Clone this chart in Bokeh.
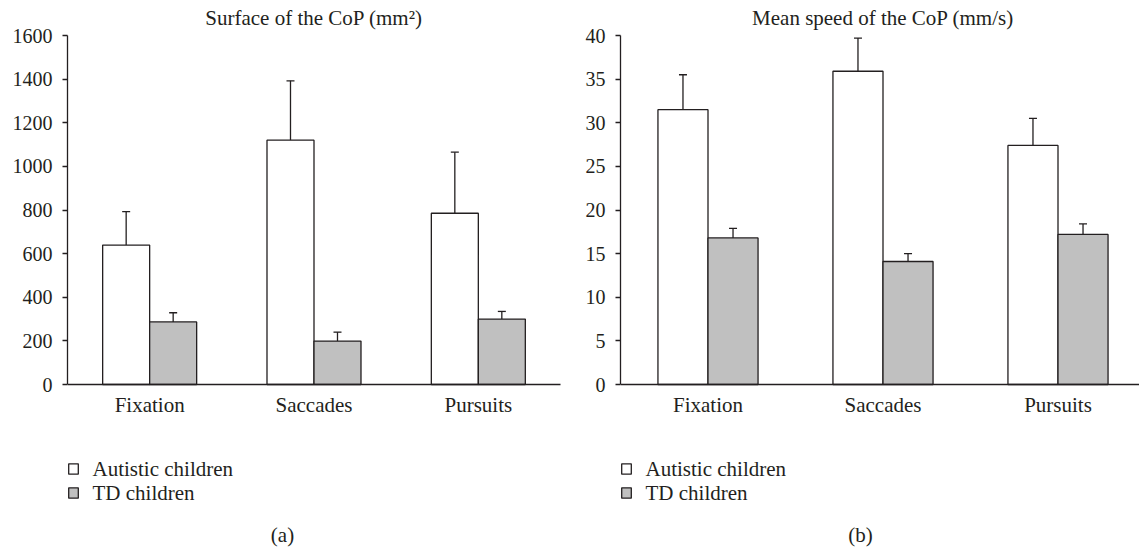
import numpy as np
from bokeh.plotting import figure
from bokeh.layouts import row
from bokeh.models import (Range1d, FixedTicker, Whisker, TeeHead, ColumnDataSource,
                          Label, Legend, LegendItem)
from bokeh.embed import file_html
from bokeh.resources import INLINE

# ---------------- data ----------------
categories = ["Fixation", "Saccades", "Pursuits"]
groups = ["Autistic children", "TD children"]

surface_autistic = [639, 1120, 785]
surface_autistic_err = [154, 272, 280]
surface_td = [287, 199, 300]
surface_td_err = [42, 41, 35]

speed_autistic = [31.5, 35.9, 27.4]
speed_autistic_err = [4.0, 3.8, 3.1]
speed_td = [16.8, 14.1, 17.2]
speed_td_err = [1.1, 0.9, 1.2]

surface_ticks = [0, 200, 400, 600, 800, 1000, 1200, 1400, 1600]
speed_ticks = [0, 5, 10, 15, 20, 25, 30, 35, 40]

titles = ["Surface of the CoP (mm\u00b2)", "Mean speed of the CoP (mm/s)"]
captions = ["(a)", "(b)"]

# ---------------- style / layout ----------------
FONT = "Liberation Serif"
FS_TICK = "20px"
FS_TEXT = "21px"
INK = "#231f20"
TD_FILL = "#c0c0c0"
BAR_W = 0.286
H = 548            # figure height (frame covers all of it)
PLOT_TOP = 35      # pixel row of the top tick
PLOT_BOTTOM = 384  # pixel row of the zero line
LEG_TOP = 458      # pixel row of the legend's top
LEG_ROW = 24       # legend row pitch


def panel(a_vals, a_err, t_vals, t_err, ticks, title, caption,
          width, left, pitch_px, cap_x):
    frame_w = width - left
    n = len(categories)
    centers = np.arange(n) + 0.5
    lo, hi = ticks[0], ticks[-1]
    per_px = (hi - lo) / (PLOT_BOTTOM - PLOT_TOP)
    y_start = lo - (H - PLOT_BOTTOM) * per_px
    y_end = hi + PLOT_TOP * per_px
    p = figure(width=width, height=H, output_backend="svg", toolbar_location=None,
               x_range=Range1d(0, frame_w / pitch_px), y_range=Range1d(y_start, y_end),
               min_border_left=left, min_border_right=0,
               min_border_top=0, min_border_bottom=0)
    p.outline_line_color = None
    p.xgrid.visible = False
    p.ygrid.visible = False
    p.background_fill_color = "white"
    p.border_fill_color = "white"

    xa = centers - BAR_W / 2
    xt = centers + BAR_W / 2
    ra = p.vbar(x=xa, top=a_vals, bottom=0, width=BAR_W, fill_color="white",
                line_color=INK, line_width=1.3)
    rt = p.vbar(x=xt, top=t_vals, bottom=0, width=BAR_W, fill_color=TD_FILL,
                line_color=INK, line_width=1.3)

    for xs, vals, errs in ((xa, a_vals, a_err), (xt, t_vals, t_err)):
        src = ColumnDataSource(dict(x=xs, top=vals,
                                    upper=[v + e for v, e in zip(vals, errs)]))
        w = Whisker(source=src, base="x", lower="top", upper="upper", dimension="height",
                    line_color=INK, line_width=1.3, lower_head=None,
                    upper_head=TeeHead(size=8, line_color=INK, line_width=1.3))
        p.add_layout(w)

    # axes
    p.xaxis.fixed_location = 0
    p.xaxis.bounds = (0, n)
    p.xaxis.ticker = FixedTicker(ticks=list(centers))
    p.xaxis.major_label_overrides = {float(c): name for c, name in zip(centers, categories)}
    p.xaxis.major_tick_line_color = None
    p.xaxis.minor_tick_line_color = None
    p.xaxis.axis_line_color = INK
    p.xaxis.axis_line_width = 1.3
    p.xaxis.major_label_standoff = 2
    p.xaxis.major_label_text_font_size = FS_TEXT
    p.yaxis.bounds = (lo, hi)
    p.yaxis.ticker = FixedTicker(ticks=ticks)
    p.yaxis.minor_tick_line_color = None
    p.yaxis.major_tick_in = 0
    p.yaxis.major_tick_out = 5
    p.yaxis.major_tick_line_color = INK
    p.yaxis.major_tick_line_width = 1.3
    p.yaxis.axis_line_color = INK
    p.yaxis.axis_line_width = 1.3
    p.yaxis.major_label_standoff = 10
    p.yaxis.major_label_text_font_size = FS_TICK
    for ax in (p.xaxis, p.yaxis):
        ax.major_label_text_font = FONT
        ax.major_label_text_color = INK

    # title (centered over the categories)
    p.add_layout(Label(x=n / 2, y=H - 17, x_units="data", y_units="screen",
                       text=title, text_align="center", text_baseline="middle",
                       text_font=FONT, text_font_size=FS_TEXT, text_color=INK))
    # caption
    p.add_layout(Label(x=cap_x, y=H - 534, x_units="screen", y_units="screen",
                       text=caption, text_align="center", text_baseline="middle",
                       text_font=FONT, text_font_size=FS_TEXT, text_color=INK))
    # legend: library legend draws the swatches, serif labels set beside them
    leg = Legend(items=[LegendItem(label=" ", renderers=[ra]),
                        LegendItem(label=" ", renderers=[rt])],
                 location=(0, H - LEG_TOP - 2 * LEG_ROW + 4), orientation="vertical",
                 glyph_width=12, glyph_height=13, label_standoff=0, spacing=4,
                 padding=0, margin=0, border_line_color=None, background_fill_alpha=0,
                 label_text_font_size="6px", label_height=20, label_width=1)
    p.add_layout(leg)
    for i, g in enumerate(groups):
        p.add_layout(Label(x=25, y=H - LEG_TOP - 10 - i * LEG_ROW, x_units="screen",
                           y_units="screen", text=g, text_align="left",
                           text_baseline="middle", text_font=FONT,
                           text_font_size=FS_TEXT, text_color=INK))
    return p


p1 = panel(surface_autistic, surface_autistic_err, surface_td, surface_td_err,
           surface_ticks, titles[0], captions[0], width=570, left=67,
           pitch_px=164.33, cap_x=215)
p2 = panel(speed_autistic, speed_autistic_err, speed_td, speed_td_err,
           speed_ticks, titles[1], captions[1], width=569, left=50,
           pitch_px=175, cap_x=240)

layout = row(p1, p2)
open("out.html", "w").write(file_html(layout, INLINE))
